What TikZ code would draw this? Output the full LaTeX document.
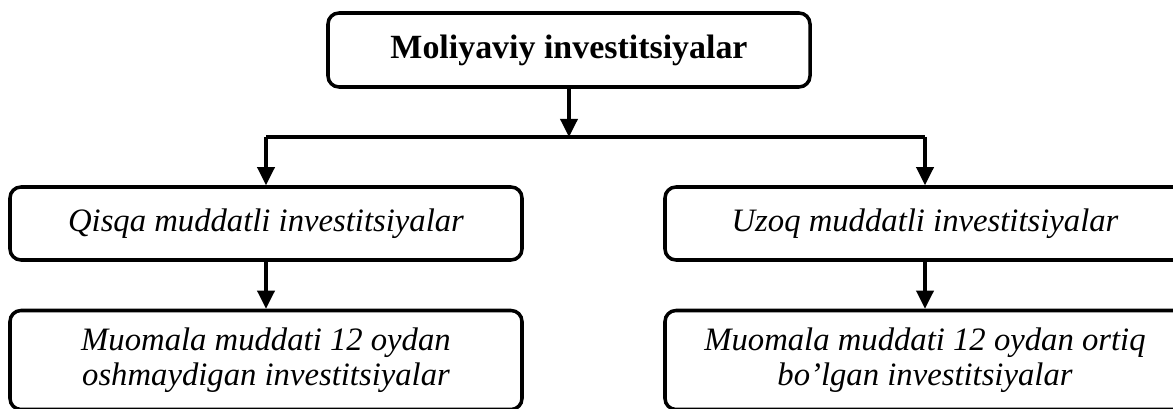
\documentclass[tikz,border=0pt]{standalone}
\usepackage{fontspec}
\setmainfont{Liberation Serif}
\usetikzlibrary{arrows.meta}

\tikzset{
    box/.style={draw, line width=2pt, rounded corners=0.22cm, align=center,
        inner sep=0pt, font=\fontsize{18.6}{19.6}\selectfont\itshape},
    link/.style={line width=2pt, -{Triangle[length=0.36cm,width=0.34cm]}}
}

\begin{document}
\begin{tikzpicture}
    \useasboundingbox (0,0) rectangle (23.46,-8.18);
    \node[box, font=\fontsize{19.3}{21}\selectfont\bfseries,
        minimum width=9.64cm, minimum height=1.48cm] (moliya) at (11.38,-1.0) {Moliyaviy investitsiyalar};
    \node[box, minimum width=10.24cm, minimum height=1.46cm] (qisqa) at (5.32,-4.47) {Qisqa muddatli investitsiyalar};
    \node[box, minimum width=10.4cm, minimum height=1.46cm] (uzoq) at (18.5,-4.47) {Uzoq muddatli investitsiyalar};
    \node[box, minimum width=10.24cm, minimum height=1.98cm] (qisqamuddat) at (5.32,-7.2) {Muomala muddati 12 oydan\\oshmaydigan investitsiyalar};
    \node[box, minimum width=10.4cm, minimum height=1.98cm] (uzoqmuddat) at (18.5,-7.2) {Muomala muddati 12 oydan ortiq\\bo'lgan investitsiyalar};
    \coordinate (split) at (11.38,-2.74);
    \draw[link] (moliya) -- (split);
    \draw[line width=2pt] (qisqa.north |- split) -- (uzoq.north |- split);
    \draw[link] (qisqa.north |- split) -- (qisqa);
    \draw[link] (uzoq.north |- split) -- (uzoq);
    \draw[link] (qisqa) -- (qisqamuddat);
    \draw[link] (uzoq) -- (uzoqmuddat);
\end{tikzpicture}
\end{document}
